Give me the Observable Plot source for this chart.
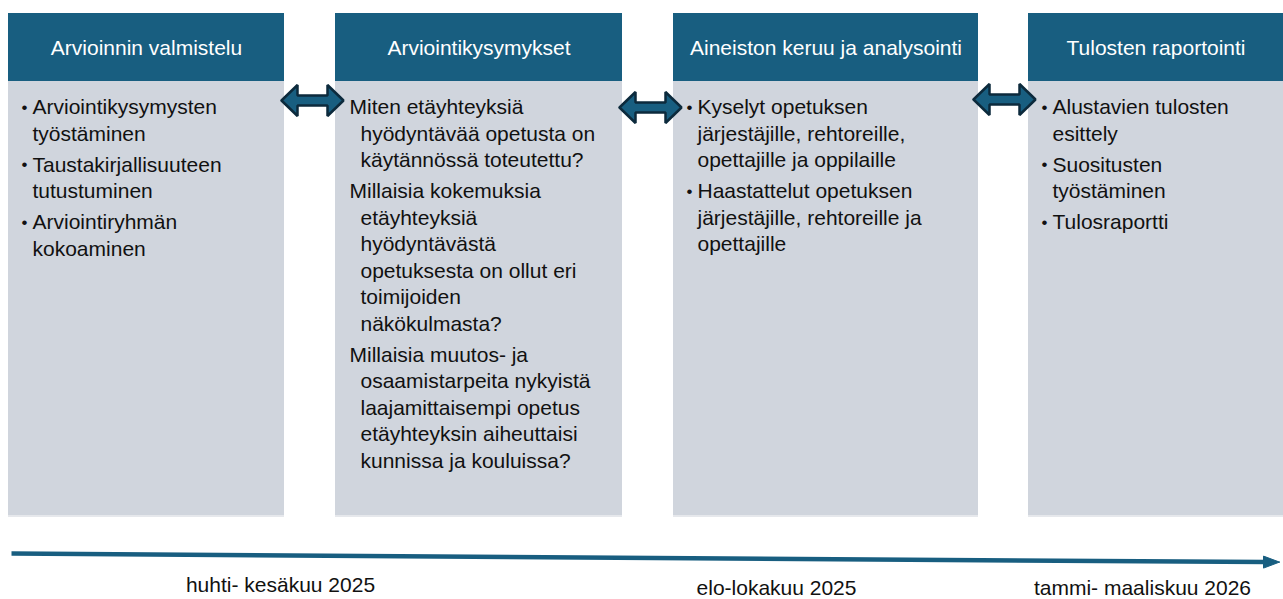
<!DOCTYPE html>
<html>
<head>
<meta charset="utf-8">
<script src="https://cdn.jsdelivr.net/npm/d3@7"></script>
<script src="https://cdn.jsdelivr.net/npm/@observablehq/plot@0.6"></script>
<style>
  html, body { margin: 0; padding: 0; background: #ffffff; overflow: hidden; }
  #chart svg { display: block; }
</style>
</head>
<body>
<div id="chart"></div>
<script>
// ---- content ----
const phases = [
  "Arvioinnin valmistelu",
  "Arviointikysymykset",
  "Aineiston keruu ja analysointi",
  "Tulosten raportointi"
];
const bulleted = [true, false, true, true];
const phase1Items = [
  ["Arviointikysymysten", "työstäminen"],
  ["Taustakirjallisuuteen", "tutustuminen"],
  ["Arviointiryhmän", "kokoaminen"]
];
const phase2Items = [
  ["Miten etäyhteyksiä", "hyödyntävää opetusta on", "käytännössä toteutettu?"],
  ["Millaisia kokemuksia", "etäyhteyksiä", "hyödyntävästä", "opetuksesta on ollut eri", "toimijoiden", "näkökulmasta?"],
  ["Millaisia muutos- ja", "osaamistarpeita nykyistä", "laajamittaisempi opetus", "etäyhteyksin aiheuttaisi", "kunnissa ja kouluissa?"]
];
const phase3Items = [
  ["Kyselyt opetuksen", "järjestäjille, rehtoreille,", "opettajille ja oppilaille"],
  ["Haastattelut opetuksen", "järjestäjille, rehtoreille ja", "opettajille"]
];
const phase4Items = [
  ["Alustavien tulosten", "esittely"],
  ["Suositusten", "työstäminen"],
  ["Tulosraportti"]
];
const periods = ["huhti- kesäkuu 2025", "elo-lokakuu 2025", "tammi- maaliskuu 2026"];

// ---- layout ----
const W = 1283, H = 599;
const boxLeft  = [8, 335, 673, 1028];
const boxRight = [284, 622, 978, 1283];
const headTop = 13, headBottom = 81, bodyBottom = 515;
const firstLineY = 107, lineStep = 26.5, itemGap = 4.5;
const arrowCenters = [[312, 100], [650, 107], [1004, 99]];
const periodX = [280, 776, 1142], periodY = [585, 588, 588];
const timeline = {x1: 11, y1: 553, x2: 1265, y2: 561.6, tip: 1279};

const headColor = "#185e80";
const bodyColor = "#d0d5dd";
const font = "'Liberation Sans', Arial, Helvetica, sans-serif";

const allItems = [phase1Items, phase2Items, phase3Items, phase4Items];
const boxes = phases.map((p, i) => ({title: p, x1: boxLeft[i], x2: boxRight[i], cx: (boxLeft[i] + boxRight[i]) / 2}));

const lines = [];
const bullets = [];
allItems.forEach((items, b) => {
  let y = firstLineY;
  items.forEach((item) => {
    item.forEach((txt, li) => {
      let x;
      if (bulleted[b]) x = boxLeft[b] + 24;
      else x = boxLeft[b] + (li === 0 ? 14 : 25);
      lines.push({x, y, text: txt});
      if (li === 0 && bulleted[b]) bullets.push({x: boxLeft[b] + 16, y});
      y += lineStep;
    });
    y += itemGap;
  });
});

// double arrows as polygons
const L = 31, HL = 16, HH = 15.5, SH = 5;
const shape = [[-L,0],[-L+HL,-HH],[-L+HL,-SH],[L-HL,-SH],[L-HL,-HH],[L,0],[L-HL,HH],[L-HL,SH],[-L+HL,SH],[-L+HL,HH],[-L,0]];
const arrowPts = [];
arrowCenters.forEach(([cx, cy], k) => shape.forEach(([dx, dy]) => arrowPts.push({k, x: cx + dx, y: cy + dy})));

const headPts = [
  {x: timeline.tip, y: timeline.y2},
  {x: timeline.x2 - 2, y: timeline.y2 - 6},
  {x: timeline.x2 - 2, y: timeline.y2 + 6},
  {x: timeline.tip, y: timeline.y2}
];

const chart = Plot.plot({
  width: W, height: H, margin: 0,
  x: {domain: [0, W], range: [0, W], axis: null},
  y: {domain: [0, H], range: [0, H], axis: null},
  style: {fontFamily: font, background: "#ffffff"},
  marks: [
    // subtle shadow
    Plot.rect(boxes, {x1: "x1", x2: "x2", y1: headBottom, y2: bodyBottom + 2, fill: "#e6e8ec"}),
    Plot.rect(boxes, {x1: "x1", x2: "x2", y1: headBottom, y2: bodyBottom, fill: bodyColor}),
    Plot.rect(boxes, {x1: "x1", x2: "x2", y1: headTop, y2: headBottom, fill: headColor}),
    Plot.text(boxes, {x: "cx", y: 48, text: "title", fill: "white", fontSize: 21, textAnchor: "middle"}),
    Plot.text(bullets, {x: "x", y: "y", text: () => "•", fill: "#111", fontSize: 17, textAnchor: "middle"}),
    Plot.text(lines, {x: "x", y: "y", text: "text", fill: "#111", fontSize: 21, textAnchor: "start"}),
    Plot.line(arrowPts, {x: "x", y: "y", z: "k", fill: headColor, stroke: "#0c2a3c", strokeWidth: 2.5, strokeLinejoin: "miter", curve: "linear"}),
    Plot.link([timeline], {x1: "x1", y1: "y1", x2: "x2", y2: "y2", stroke: headColor, strokeWidth: 4.5}),
    Plot.line(headPts, {x: "x", y: "y", fill: headColor, stroke: headColor, strokeWidth: 1}),
    Plot.text(periods, {x: (d, i) => periodX[i], y: (d, i) => periodY[i], text: d => d, fill: "#111", fontSize: 21, textAnchor: "middle"})
  ]
});
document.getElementById("chart").appendChild(chart);
</script>
</body>
</html>
